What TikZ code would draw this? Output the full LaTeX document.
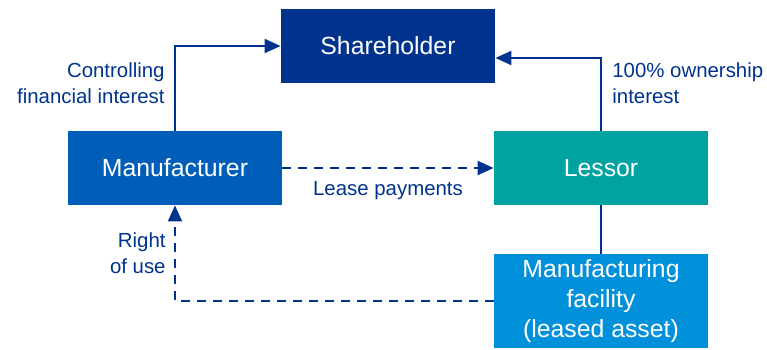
\documentclass[tikz,border=0pt]{standalone}
\usepackage{fontspec}
\setmainfont{Liberation Sans}
\usetikzlibrary{arrows.meta}
\definecolor{navy}{HTML}{00338D}
\definecolor{midblue}{HTML}{005EB8}
\definecolor{lightblue}{HTML}{0091DA}
\definecolor{teal}{HTML}{00A3A1}

\begin{document}
\begin{tikzpicture}[x=0.5pt,y=-0.5pt,
    every node/.style={inner sep=0pt,align=center},
    box/.style={minimum width=107pt,minimum height=37pt,text=white,font=\fontsize{12.4}{15}\selectfont},
    lbl/.style={text=navy,font=\fontsize{10.2}{13}\selectfont},
    conn/.style={navy,line width=1pt},
    arr/.style={conn,-{Triangle[length=8pt,width=7pt]}},
    dashline/.style={dash pattern=on 4.5pt off 3.5pt}]
    \useasboundingbox (0,0) rectangle (767,349);
    \node (share) [box, fill=navy] at (388,46) {Shareholder};
    \node (mfr) [box, fill=midblue] at (175,168) {Manufacturer};
    \node (lessor) [box, fill=teal] at (601,168) {Lessor};
    \node (facility) [box, fill=lightblue, minimum height=47pt] at (601,301) {Manufacturing\\facility\\(leased asset)};
    \node (ctrl) [lbl, anchor=east, align=right] at (165,83) {Controlling\\financial interest};
    \node (own) [lbl, anchor=west, align=left] at (612,83) {100\% ownership\\interest};
    \node (lease) [lbl] at (388,191) {Lease payments};
    \node (use) [lbl, anchor=east, align=right] at (166,253) {Right\\of use};
    \draw[arr] (mfr.north) |- (share.west);
    \draw[arr] (lessor.north) |- ([yshift=-6pt]share.east);
    \draw[arr,dashline] (mfr.east) -- (lessor.west);
    \draw[conn] (lessor.south) -- (facility.north);
    \draw[arr,dashline] (facility.west) -| (mfr.south);
\end{tikzpicture}
\end{document}
